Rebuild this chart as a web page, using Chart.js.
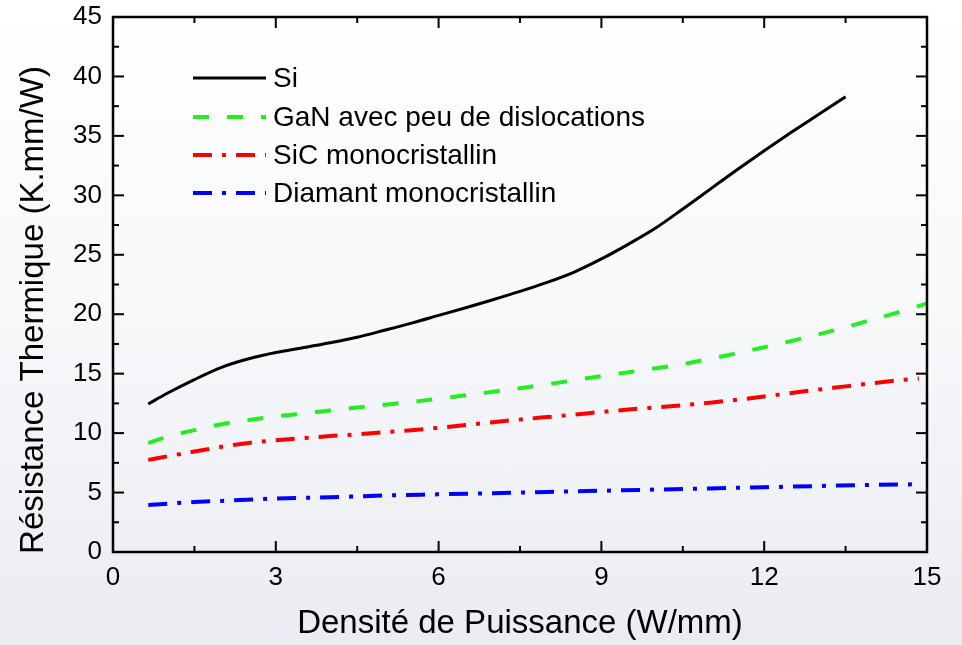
<!DOCTYPE html>
<html>
<head>
<meta charset="utf-8">
<script src="https://cdn.jsdelivr.net/npm/chart.js@4.4.1/dist/chart.umd.min.js"></script>
<style>
  html, body { margin: 0; padding: 0; }
  body {
    width: 962px;
    height: 645px;
    overflow: hidden;
    background: linear-gradient(to bottom, #ffffff 0%, #f8f9fb 45%, #eaecf1 100%);
  }
  canvas { display: block; }
</style>
</head>
<body>
<canvas id="rthChart" width="962" height="645"></canvas>
<script>
// data
const seriesLabels = ["Si", "GaN avec peu de dislocations", "SiC monocristallin", "Diamant monocristallin"];

const powerSi = [0.65, 1, 1.5, 2, 2.5, 3, 3.5, 4, 4.5, 5, 5.5, 6, 6.5, 7, 7.5, 8, 8.5, 9, 9.5, 10, 10.5, 11, 11.5, 12, 12.5, 13, 13.5];
const rthSi = [12.45, 13.35, 14.5, 15.53, 16.25, 16.78, 17.18, 17.6, 18.07, 18.65, 19.25, 19.9, 20.55, 21.22, 21.92, 22.68, 23.55, 24.65, 25.9, 27.25, 28.85, 30.5, 32.15, 33.75, 35.3, 36.8, 38.3];

const powerGaN = [0.65, 1, 1.5, 2, 2.5, 3, 3.5, 4, 4.5, 5, 5.5, 6, 6.5, 7, 7.5, 8, 8.5, 9, 9.5, 10, 10.5, 11, 11.5, 12, 12.5, 13, 13.5, 14, 14.5, 15];
const rthGaN = [9.15, 9.7, 10.25, 10.75, 11.1, 11.4, 11.65, 11.9, 12.15, 12.38, 12.62, 12.9, 13.18, 13.48, 13.78, 14.1, 14.45, 14.8, 15.12, 15.45, 15.8, 16.25, 16.72, 17.22, 17.75, 18.3, 18.9, 19.55, 20.2, 20.9];

const powerSiC = [0.65, 1, 1.5, 2, 2.5, 3, 3.5, 4, 4.5, 5, 5.5, 6, 6.5, 7, 7.5, 8, 8.5, 9, 9.5, 10, 10.5, 11, 11.5, 12, 12.5, 13, 13.5, 14, 14.5, 14.85];
const rthSiC = [7.75, 8.05, 8.45, 8.85, 9.17, 9.4, 9.58, 9.75, 9.9, 10.07, 10.25, 10.45, 10.68, 10.92, 11.14, 11.35, 11.56, 11.78, 11.98, 12.16, 12.35, 12.56, 12.8, 13.08, 13.38, 13.66, 13.93, 14.2, 14.45, 14.6];

const powerDiam = [0.65, 1.5, 2, 3, 4, 5, 6, 7, 8, 9, 10, 11, 12, 13, 14, 14.9];
const rthDiam = [3.95, 4.2, 4.3, 4.5, 4.6, 4.75, 4.85, 4.95, 5.05, 5.15, 5.25, 5.35, 5.45, 5.55, 5.65, 5.7];

const xTitle = "Densité de Puissance (W/mm)";
const yTitle = "Résistance Thermique (K.mm/W)";

const FONT = "'Liberation Sans', Arial, sans-serif";

function toPoints(xs, ys) {
  return xs.map((x, i) => ({ x: x, y: ys[i] }));
}

// frame, inward ticks on all four sides, y title and the legend inside the plot
const framePlugin = {
  id: "frame",
  afterDatasetsDraw(chart) {
    const { ctx, chartArea: a, scales } = chart;
    const xs = scales.x, ys = scales.y;
    ctx.save();
    ctx.strokeStyle = "#000";
    ctx.lineWidth = 2;
    const tick = (x1, y1, x2, y2) => {
      ctx.beginPath();
      ctx.moveTo(x1, y1);
      ctx.lineTo(x2, y2);
      ctx.stroke();
    };
    const xt = xs.ticks.map(t => t.value);
    for (let i = 0; i < xt.length; i++) {
      const px = xs.getPixelForValue(xt[i]);
      tick(px, a.bottom, px, a.bottom - 11);
      tick(px, a.top, px, a.top + 11);
      if (i < xt.length - 1) {
        const pm = xs.getPixelForValue((xt[i] + xt[i + 1]) / 2);
        tick(pm, a.bottom, pm, a.bottom - 6);
        tick(pm, a.top, pm, a.top + 6);
      }
    }
    const yt = ys.ticks.map(t => t.value);
    for (let i = 0; i < yt.length; i++) {
      const py = ys.getPixelForValue(yt[i]);
      tick(a.left, py, a.left + 11, py);
      tick(a.right, py, a.right - 11, py);
      if (i < yt.length - 1) {
        const pm = ys.getPixelForValue((yt[i] + yt[i + 1]) / 2);
        tick(a.left, pm, a.left + 6, pm);
        tick(a.right, pm, a.right - 6, pm);
      }
    }
    ctx.lineWidth = 2.5;
    ctx.strokeRect(a.left, a.top, a.right - a.left, a.bottom - a.top);

    // legend
    const lx0 = 193, lx1 = 266, tx = 273, rowY = [78, 117, 155, 193];
    ctx.font = "28px " + FONT;
    ctx.textBaseline = "middle";
    ctx.textAlign = "left";
    chart.data.datasets.forEach((ds, i) => {
      ctx.strokeStyle = ds.borderColor;
      ctx.lineWidth = ds.borderWidth;
      ctx.setLineDash(ds.borderDash || []);
      ctx.beginPath();
      ctx.moveTo(lx0, rowY[i]);
      ctx.lineTo(lx1, rowY[i]);
      ctx.stroke();
      ctx.setLineDash([]);
      ctx.fillStyle = "#000";
      ctx.fillText(ds.label, tx, rowY[i] + 1);
    });

    // y title
    ctx.translate(34, 310);
    ctx.rotate(-Math.PI / 2);
    ctx.font = "33px " + FONT;
    ctx.textAlign = "center";
    ctx.fillText(yTitle, 0, 0);
    ctx.restore();
  }
};

const lineStyle = {
  showLine: true,
  pointRadius: 0,
  fill: false,
  cubicInterpolationMode: "monotone",
  borderCapStyle: "butt"
};

new Chart(document.getElementById("rthChart"), {
  type: "scatter",
  data: {
    datasets: [
      Object.assign({ label: seriesLabels[0], data: toPoints(powerSi, rthSi), borderColor: "#000000", borderWidth: 3, borderDash: [] }, lineStyle),
      Object.assign({ label: seriesLabels[1], data: toPoints(powerGaN, rthGaN), borderColor: "#22ee22", borderWidth: 4, borderDash: [16, 18] }, lineStyle),
      Object.assign({ label: seriesLabels[2], data: toPoints(powerSiC, rthSiC), borderColor: "#ff0000", borderWidth: 4, borderDash: [19, 10, 4, 10] }, lineStyle),
      Object.assign({ label: seriesLabels[3], data: toPoints(powerDiam, rthDiam), borderColor: "#0000ff", borderWidth: 4, borderDash: [19, 10, 4, 10] }, lineStyle)
    ]
  },
  options: {
    responsive: false,
    animation: false,
    devicePixelRatio: 1,
    layout: { padding: { left: 0, top: 17, right: 35, bottom: 0 } },
    plugins: {
      legend: { display: false },
      tooltip: { enabled: false }
    },
    scales: {
      x: {
        type: "linear",
        min: 0,
        max: 15,
        afterFit(s) { s.height = 93; s.paddingLeft = 0; s.paddingRight = 0; },
        grid: { display: false, drawTicks: false },
        border: { display: false },
        ticks: { stepSize: 3, padding: 10, color: "#000", maxRotation: 0, autoSkip: false, font: { family: FONT, size: 26 } },
        title: { display: true, text: xTitle, color: "#000", padding: { top: 0, bottom: 1 }, font: { family: FONT, size: 33 } }
      },
      y: {
        type: "linear",
        min: 0,
        max: 45,
        afterFit(s) { s.width = 113; s.paddingTop = 0; s.paddingBottom = 0; },
        grid: { display: false, drawTicks: false },
        border: { display: false },
        ticks: { stepSize: 5, padding: 11, color: "#000", font: { family: FONT, size: 26 } }
      }
    }
  },
  plugins: [framePlugin]
});
</script>
</body>
</html>
